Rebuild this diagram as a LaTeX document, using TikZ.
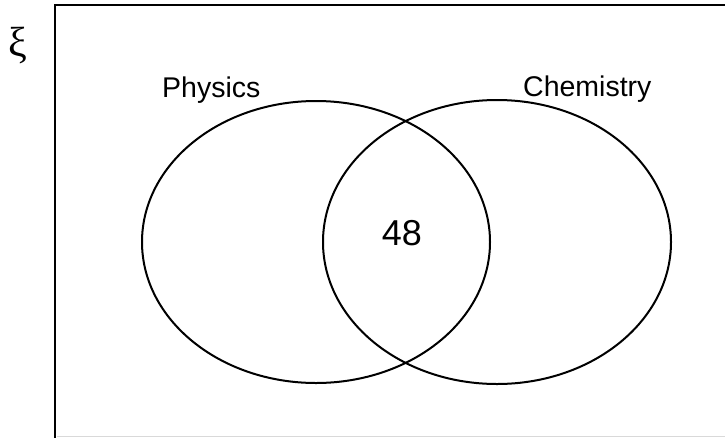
\documentclass[tikz,border=0pt]{standalone}
\usepackage{fontspec}
\setmainfont{Liberation Sans}
\newfontfamily\greekf{Liberation Serif}
\usetikzlibrary{shapes.geometric}
\begin{document}
\begin{tikzpicture}[x=1pt,y=-1pt,
  setline/.style={line width=2pt,black},
  lbl/.style={inner sep=0pt,font=\fontsize{28.5}{30}\selectfont}]
\useasboundingbox (0,0) rectangle (725,437);
% universal set frame (clipped at right and bottom)
\coordinate (tl) at (55,5);
\coordinate (tr) at (726,5);
\coordinate (bl) at (55,437);
\coordinate (gl) at (57,436);
\coordinate (gr) at (726,436);
\draw[line width=2pt,line cap=rect] (bl) -- (tl) -- (tr);
\draw[line width=1pt,black!15] (gl) -- (gr);
\node[inner sep=0pt,anchor=base,font=\greekf\fontsize{42}{44}\selectfont] (xi) at (18,56) {ξ};
% sets
\node[setline,draw,ellipse,minimum width=348pt,minimum height=282pt,inner sep=0pt] (phys) at (316,242) {};
\node[setline,draw,ellipse,minimum width=348pt,minimum height=284pt,inner sep=0pt] (chem) at (497,242) {};
\node[lbl,anchor=base west] (pl) at (162,97) {Physics};
\node[lbl,anchor=base west] (cl) at (523,96) {Chemistry};
\node[inner sep=0pt,anchor=base,font=\fontsize{36}{38}\selectfont] (n48) at (402,245) {48};
\end{tikzpicture}
\end{document}
